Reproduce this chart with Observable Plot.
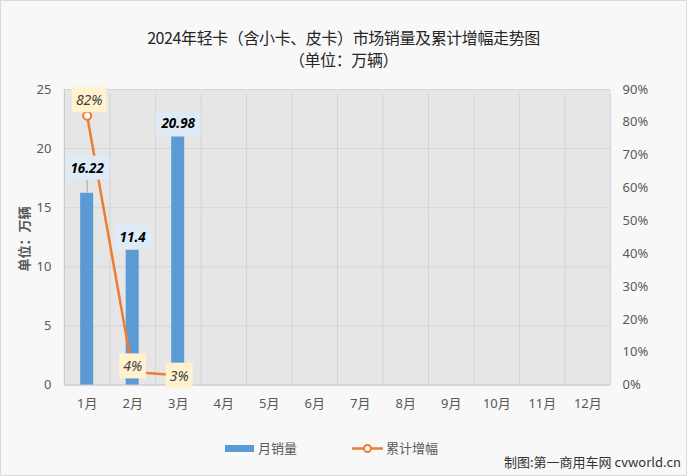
<!DOCTYPE html>
<html><head><meta charset="utf-8">
<script src="https://cdn.jsdelivr.net/npm/d3@7"></script>
<script src="https://cdn.jsdelivr.net/npm/@observablehq/plot@0.6"></script>
<style>
body{margin:0;background:#fff;}
#chart{position:relative;width:687px;height:476px;box-sizing:border-box;border:1px solid #d9d9d9;background:#f8f8f8;font-family:"Noto Sans","Noto Sans CJK SC",sans-serif;overflow:hidden;}
.t{position:absolute;left:0;width:100%;text-align:center;font-family:"Noto Sans CJK SC",sans-serif;font-size:16px;color:#262626;letter-spacing:-0.4px;white-space:nowrap;}
#plot{position:absolute;top:76px;left:-1px;}
#ylab{position:absolute;left:22px;top:238px;transform:translate(-50%,-50%) rotate(-90deg);font-family:"Noto Sans CJK SC",sans-serif;font-size:13px;font-weight:bold;color:#595959;white-space:nowrap;}
#legend{position:absolute;top:437px;left:0;width:100%;font-family:"Noto Sans CJK SC",sans-serif;font-size:13px;color:#595959;}
.li{position:absolute;top:0;height:20px;line-height:20px;white-space:nowrap;}
.li span{white-space:nowrap;}
#foot{position:absolute;right:5px;top:451px;font-family:"Noto Sans CJK SC",sans-serif;font-size:13px;color:#333;white-space:nowrap;}
</style></head>
<body>
<div id="chart">
  <div class="t" style="top:24px">2024年轻卡（含小卡、皮卡）市场销量及累计增幅走势图</div>
  <div class="t" style="top:46px">（单位：万辆）</div>
  <div id="plot"></div>
  <div id="ylab">单位：万辆</div>
  <div id="legend">
    <div class="li" style="left:224px"><svg width="30" height="20" style="vertical-align:top"><rect x="0" y="7" width="29" height="7" fill="#5b9bd5"/></svg><span style="position:absolute;left:33px;top:0">月销量</span></div>
    <div class="li" style="left:351px"><svg width="32" height="20" style="vertical-align:top"><line x1="0" x2="31" y1="10.5" y2="10.5" stroke="#ed7d31" stroke-width="2.5"/><circle cx="15.5" cy="10.5" r="3.5" fill="#fff" stroke="#ed7d31" stroke-width="2"/></svg><span style="position:absolute;left:34px;top:0">累计增幅</span></div>
  </div>
  <div id="foot">制图:第一商用车网 cvworld.cn</div>
</div>
<script>
const months = [1,2,3,4,5,6,7,8,9,10,11,12];
const monthLabels = ["1月","2月","3月","4月","5月","6月","7月","8月","9月","10月","11月","12月"];
const sales = [16.22, 11.4, 20.98];
const salesLabels = ["16.22", "11.4", "20.98"];
const growth = [82, 4, 3];
const yTicks = [0, 5, 10, 15, 20, 25];
const pctTicks = [0, 10, 20, 30, 40, 50, 60, 70, 80, 90];

const yMax = 25, pMax = 90;
const toY = p => p * yMax / pMax;

const barData = sales.map((v, i) => ({m: months[i], v, label: salesLabels[i]}));
const lineData = growth.map((g, i) => ({m: months[i], g, label: g + "%"}));
const bounds = [months[0] - 0.5, ...months.map(m => m + 0.5)];

const labelDy = i => i === 0 ? -25 : -13;
const pctDy = i => i === 0 ? -15 : (i === 1 ? -5 : 1);
const pctDx = i => i === 0 ? 2 : (i === 2 ? 1 : 0);

const plot = Plot.plot({
  width: 687, height: 343,
  marginTop: 12, marginBottom: 35, marginLeft: 64, marginRight: 76,
  style: {background: "transparent", fontFamily: "'Noto Sans','Noto Sans CJK SC',sans-serif", fontSize: "13px", color: "#595959"},
  x: {type: "linear", domain: [0.5, 12.5], axis: null},
  y: {domain: [0, yMax], axis: null},
  marks: [
    Plot.frame({fill: "#e6e6e6", stroke: null}),
    Plot.ruleY(yTicks.slice(1), {stroke: "#d4d4d4", strokeWidth: 1}),
    Plot.ruleX(bounds, {y1: 0, y2: yMax, stroke: "#d4d4d4", strokeWidth: 1, insetBottom: -5}),
    Plot.ruleY([0], {stroke: "#bfbfbf", strokeWidth: 1}),
    Plot.ruleX([bounds[0]], {y1: 0, y2: yMax, stroke: "#c8c8c8", strokeWidth: 1}),
    Plot.axisY(yTicks, {anchor: "left", tickSize: 0, tickPadding: 13, label: null, fill: "#595959", fontSize: 13}),
    Plot.axisY(pctTicks.map(toY), {anchor: "right", tickSize: 0, tickPadding: 12, label: null, fill: "#595959", fontSize: 13, tickFormat: d => Math.round(d * pMax / yMax) + "%"}),
    Plot.axisX(months, {anchor: "bottom", tickSize: 0, tickPadding: 14, label: null, fill: "#595959", fontSize: 13, tickFormat: (d) => monthLabels[months.indexOf(d)]}),
    Plot.rectY(barData, {x1: d => d.m - 0.143, x2: d => d.m + 0.143, y1: 0, y2: "v", fill: "#5b9bd5"}),
    Plot.ruleX(barData.slice(0, 1), {x: "m", y1: "v", y2: "v", insetTop: -14, stroke: "#a6a6a6", strokeWidth: 1}),
    Plot.line(lineData, {x: "m", y: d => toY(d.g), stroke: "#ed7d31", strokeWidth: 2.5}),
    Plot.dot(lineData, {x: "m", y: d => toY(d.g), r: 4, fill: "#fff", stroke: "#ed7d31", strokeWidth: 2}),
    ...barData.map((d, i) => Plot.text([d], {x: "m", y: "v", text: "label", dy: labelDy(i), fill: "#000", fontWeight: "bold", fontStyle: "italic", fontSize: 13.5, className: "lblbar"})),
    ...lineData.map((d, i) => Plot.text([d], {x: "m", y: dd => toY(dd.g), text: "label", dy: pctDy(i), dx: pctDx(i), fill: "#404040", fontStyle: "italic", fontSize: 14, className: "lblpct"}))
  ]
});
document.getElementById("plot").appendChild(plot);

function addBg(cls, color, padX, padY) {
  d3.select(plot).selectAll("g." + cls + " text").each(function() {
    const b = this.getBBox();
    const g = this.parentNode;
    const tr = this.getAttribute("transform");
    const r = document.createElementNS("http://www.w3.org/2000/svg", "rect");
    r.setAttribute("x", b.x - padX);
    r.setAttribute("y", b.y - padY);
    r.setAttribute("width", b.width + 2 * padX);
    r.setAttribute("height", b.height + 2 * padY);
    r.setAttribute("fill", color);
    if (tr) r.setAttribute("transform", tr);
    g.insertBefore(r, this);
  });
}
addBg("lblbar", "#deebf7", 5, 3);
addBg("lblpct", "#fff2cc", 4, 3);
</script>
</body></html>
